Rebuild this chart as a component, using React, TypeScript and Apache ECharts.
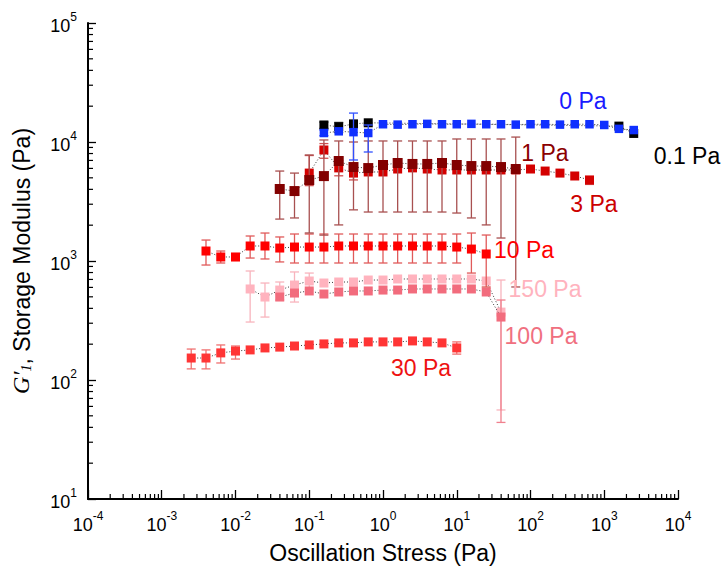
import React, { useEffect, useRef } from 'react';
import * as echarts from 'echarts';

const FONT = "'Liberation Sans', Arial, Helvetica, sans-serif";

// ---------------- data (stress in Pa, G' in Pa) ----------------
// 0 Pa (blue)
const x0 = [0.158, 0.251, 0.398, 0.631, 1, 1.58, 2.51, 3.98, 6.31, 10, 15.8, 25.1, 39.8, 63.1, 100, 158, 251, 398, 631, 1000, 1580, 2510];
const g0 = [11900, 12300, 12100, 11900, 14100, 14000, 14100, 14200, 14100, 14100, 14200, 14100, 14100, 14000, 14100, 14100, 14000, 14100, 14100, 13900, 12900, 12600];
const lo0 = [11300, null, 7060, 8240, null, null, null, null, null, null, null, null, null, null, null, null, null, null, null, null, null, null];
const hi0 = [12600, null, 17500, 13900, null, null, null, null, null, null, null, null, null, null, null, null, null, null, null, null, null, null];

// 0.1 Pa (black)
const x01 = [0.158, 0.251, 0.398, 0.631, 1580, 2510];
const g01 = [13900, 13400, 14200, 14500, 13600, 11800];
const lo01 = [13000, 12000, null, null, null, null];
const hi01 = [14700, 14600, null, null, null, null];

// 1 Pa (dark red)
const x1 = [0.0398, 0.0631, 0.1, 0.158, 0.251, 0.398, 0.631, 1, 1.58, 2.51, 3.98, 6.31, 10, 15.8, 25.1, 39.8, 63.1];
const g1 = [4030, 3870, 4790, 5170, 6920, 6160, 6040, 6410, 6660, 6540, 6540, 6660, 6410, 6280, 6280, 6160, 5930];
const lo1 = [2250, 2300, 1720, 1650, 2010, 2690, 2580, 2580, 2580, 2580, 2580, 2580, 2530, 2300, 2010, 1560, 605];
const hi1 = [5700, 5480, 7780, 10400, 10200, 10000, 10200, 10200, 10200, 10200, 10200, 10200, 10600, 10600, 10600, 10600, 11000];

// 3 Pa (red)
const x3 = [0.1, 0.158, 0.251, 0.398, 0.631, 1, 1.58, 2.51, 3.98, 6.31, 10, 15.8, 25.1, 39.8, 63.1, 100, 158, 251, 398, 631];
const g3 = [5480, 8570, 6060, 5480, 5600, 5600, 5930, 6060, 5930, 5820, 5820, 5820, 5820, 5820, 5820, 5930, 5700, 5480, 5180, 4800];
const lo3 = [4300, 7300, 5200, 4800, null, null, null, null, null, null, null, null, null, null, null, null, null, null, null, 4400];
const hi3 = [7700, 9700, 7000, 6200, null, null, null, null, null, null, null, null, null, null, null, null, null, null, null, 5100];

// 10 Pa (bright red)
const x10 = [0.00398, 0.00631, 0.01, 0.0158, 0.0251, 0.0398, 0.0631, 0.1, 0.158, 0.251, 0.398, 0.631, 1, 1.58, 2.51, 3.98, 6.31, 10, 15.8, 25.1];
const g10 = [1213, 1081, 1081, 1337, 1337, 1285, 1310, 1310, 1310, 1337, 1337, 1337, 1337, 1337, 1337, 1337, 1337, 1310, 1260, 1145];
const lo10 = [925, 962, 1010, 1059, 1040, 982, 962, 962, 962, 962, 962, 962, 962, 962, 962, 962, 962, 962, 792, 605];
const hi10 = [1500, 1213, 1150, 1622, 1718, 1592, 1686, 1686, 1686, 1686, 1686, 1686, 1686, 1686, 1686, 1686, 1686, 1686, 1718, 1653];

// 30 Pa
const x30 = [0.00251, 0.00398, 0.00631, 0.01, 0.0158, 0.0251, 0.0398, 0.0631, 0.1, 0.158, 0.251, 0.398, 0.631, 1, 1.58, 2.51, 3.98, 6.31, 10];
const g30 = [153, 153, 169, 175, 179, 186, 189, 193, 197, 201, 205, 205, 209, 209, 209, 213, 209, 205, 186];
const lo30 = [124, 124, 139, 150, null, null, null, null, null, null, null, null, null, null, null, null, null, null, 165];
const hi30 = [182, 179, 197, 193, null, null, null, null, null, null, null, null, null, null, null, null, null, null, 209];

// 150 Pa (light pink)
const x150 = [0.0158, 0.0251, 0.0398, 0.0631, 0.1, 0.158, 0.251, 0.398, 0.631, 1, 1.58, 2.51, 3.98, 6.31, 10, 15.8, 25.1, 39.8];
const g150 = [582, 498, 570, 628, 679, 653, 666, 666, 692, 692, 706, 706, 706, 706, 706, 706, 679, 372];
const lo150 = [307, 338, 470, 452, 580, null, null, null, null, null, null, null, null, null, null, null, null, 56];
const hi150 = [824, 653, 666, 809, 792, null, null, null, null, null, null, null, null, null, null, null, null, 692];

// 100 Pa (pink)
const x100 = [0.0398, 0.0631, 0.1, 0.158, 0.251, 0.398, 0.631, 1, 1.58, 2.51, 3.98, 6.31, 10, 15.8, 25.1, 39.8];
const g100 = [498, 538, 560, 528, 549, 560, 560, 570, 570, 582, 582, 582, 582, 582, 549, 338];
const lo100 = [null, null, null, null, null, null, null, null, null, null, null, null, null, null, null, 44];
const hi100 = [null, null, null, null, null, null, null, null, null, null, null, null, null, null, null, 470];

// annotation texts
const labelTexts = ['0 Pa', '0.1 Pa', '1 Pa', '3 Pa', '10 Pa', '150 Pa', '100 Pa', '30 Pa'];

// ---------------- styles ----------------
const seriesDefs = [
  { name: '30 Pa', x: x30, g: g30, lo: lo30, hi: hi30, color: '#ff3535', bar: '#f07070', size: 9 },
  { name: '150 Pa', x: x150, g: g150, lo: lo150, hi: hi150, color: '#ffb3be', bar: '#f8b4bd', size: 9 },
  { name: '100 Pa', x: x100, g: g100, lo: lo100, hi: hi100, color: '#f26c7d', bar: '#f0808e', size: 9 },
  { name: '10 Pa', x: x10, g: g10, lo: lo10, hi: hi10, color: '#ff0000', bar: '#e05a5a', size: 9 },
  { name: '3 Pa', x: x3, g: g3, lo: lo3, hi: hi3, color: '#d40000', bar: '#d05050', size: 9 },
  { name: '1 Pa', x: x1, g: g1, lo: lo1, hi: hi1, color: '#820000', bar: '#a85050', size: 10 },
  { name: '0.1 Pa', x: x01, g: g01, lo: lo01, hi: hi01, color: '#000000', bar: '#333333', size: 9 },
  { name: '0 Pa', x: x0, g: g0, lo: lo0, hi: hi0, color: '#1030ff', bar: '#3050ff', size: 8.5 },
];

const labelLayout = [
  { x: 583, y: 101, color: '#1a1aff' },
  { x: 687, y: 156, color: '#000000' },
  { x: 545, y: 153, color: '#8b0000' },
  { x: 594, y: 204, color: '#cc0000' },
  { x: 524, y: 250, color: '#ff0000' },
  { x: 545, y: 289, color: '#ffb3be' },
  { x: 541, y: 336, color: '#f07080' },
  { x: 421, y: 368, color: '#ee1111' },
];

function errRender(color: string) {
  return (params: any, api: any) => {
    const x = api.value(0);
    const p1 = api.coord([x, api.value(1)]);
    const p2 = api.coord([x, api.value(2)]);
    const w = 4.5;
    const style = { stroke: color, lineWidth: 1.3 };
    return {
      type: 'group',
      children: [
        { type: 'line', shape: { x1: p1[0], y1: p1[1], x2: p2[0], y2: p2[1] }, style },
        { type: 'line', shape: { x1: p1[0] - w, y1: p1[1], x2: p1[0] + w, y2: p1[1] }, style },
        { type: 'line', shape: { x1: p2[0] - w, y1: p2[1], x2: p2[0] + w, y2: p2[1] }, style },
      ],
    };
  };
}

export default function App() {
  const ref = useRef<HTMLDivElement>(null);
  useEffect(() => {
    const chart = echarts.init(ref.current!, null, { renderer: 'svg' });

    const xMinor: number[][] = [];
    for (let d = -4; d < 4; d++) for (let k = 2; k <= 9; k++) xMinor.push([k * Math.pow(10, d), 10]);
    const yMinor: number[][] = [];
    for (let d = 1; d < 5; d++) for (let k = 2; k <= 9; k++) yMinor.push([1e-4, k * Math.pow(10, d)]);

    const series: any[] = [];
    series.push({
      type: 'custom', silent: true, clip: false, z: 50, data: xMinor, encode: { x: 0, y: 1 },
      renderItem: (p: any, api: any) => {
        const c = api.coord([api.value(0), api.value(1)]);
        return { type: 'line', shape: { x1: c[0], y1: c[1], x2: c[0], y2: c[1] - 5 }, style: { stroke: '#000', lineWidth: 1.2 } };
      },
    });
    series.push({
      type: 'custom', silent: true, clip: false, z: 50, data: yMinor, encode: { x: 0, y: 1 },
      renderItem: (p: any, api: any) => {
        const c = api.coord([api.value(0), api.value(1)]);
        return { type: 'line', shape: { x1: c[0], y1: c[1], x2: c[0] + 5, y2: c[1] }, style: { stroke: '#000', lineWidth: 1.2 } };
      },
    });

    seriesDefs.forEach((s, i) => {
      const bars: number[][] = [];
      s.x.forEach((xv, j) => {
        const lo = s.lo[j];
        const hi = s.hi[j];
        if (lo != null && hi != null) bars.push([xv, lo, hi]);
      });
      series.push({
        type: 'custom', name: s.name + ' err', silent: true, clip: false, z: 3 + i * 2,
        data: bars, encode: { x: 0, y: [1, 2] }, renderItem: errRender(s.bar),
      });
      series.push({
        type: 'line', name: s.name, z: 4 + i * 2,
        data: s.x.map((xv, j) => [xv, s.g[j]]),
        symbol: 'rect', symbolSize: s.size, showSymbol: true,
        itemStyle: { color: s.color },
        lineStyle: { color: '#3a3a3a', width: 1, type: [1, 2] },
      });
    });

    const supLabel = (v: number) => `{b|10}{s|${Math.round(Math.log10(v))}}`;
    const rich = {
      b: { fontSize: 18, fontFamily: FONT, color: '#000', lineHeight: 24, verticalAlign: 'bottom' },
      s: { fontSize: 12, fontFamily: FONT, color: '#000', lineHeight: 14, verticalAlign: 'top' },
    };

    chart.setOption({
      animation: false,
      backgroundColor: '#fff',
      grid: { left: 88, right: 48, top: 23, bottom: 73 },
      xAxis: {
        type: 'log', logBase: 10, min: 1e-4, max: 1e4, interval: 1,
        name: 'Oscillation Stress (Pa)', nameLocation: 'middle', nameGap: 42,
        nameTextStyle: { fontSize: 23, fontFamily: FONT, color: '#000' },
        axisLine: { lineStyle: { color: '#000', width: 2 } },
        axisTick: { inside: true, length: 9, lineStyle: { color: '#000', width: 1.3 } },
        axisLabel: { formatter: supLabel, rich, margin: 11 },
        splitLine: { show: false },
      },
      yAxis: {
        type: 'log', logBase: 10, min: 10, max: 1e5, interval: 1,
        name: '{g|G′}{sub|1}{t|, Storage Modulus (Pa)}', nameLocation: 'middle', nameGap: 55, nameRotate: 90,
        nameTextStyle: {
          rich: {
            g: { fontSize: 24, fontFamily: "'Liberation Serif', 'Times New Roman', serif", fontStyle: 'italic', color: '#000', lineHeight: 28, verticalAlign: 'bottom' },
            sub: { fontSize: 14, fontFamily: "'Liberation Serif', 'Times New Roman', serif", fontStyle: 'italic', color: '#000', lineHeight: 28, verticalAlign: 'bottom' },
            t: { fontSize: 23, fontFamily: FONT, color: '#000', lineHeight: 28, verticalAlign: 'bottom' },
          },
        },
        axisLine: { lineStyle: { color: '#000', width: 2 } },
        axisTick: { inside: true, length: 8, lineStyle: { color: '#000', width: 1.3 } },
        axisLabel: { formatter: supLabel, rich, margin: 11 },
        splitLine: { show: false },
      },
      graphic: labelLayout.map((l, i) => ({
        type: 'text', x: l.x, y: l.y, z: 200,
        style: { text: labelTexts[i], fill: l.color, fontSize: 23, fontFamily: FONT, align: 'center', verticalAlign: 'middle' },
      })),
      series,
    });
    return () => chart.dispose();
  }, []);
  return <div ref={ref} style={{ position: 'fixed', left: 0, top: 0, width: 726, height: 572, background: '#fff' }} />;
}
